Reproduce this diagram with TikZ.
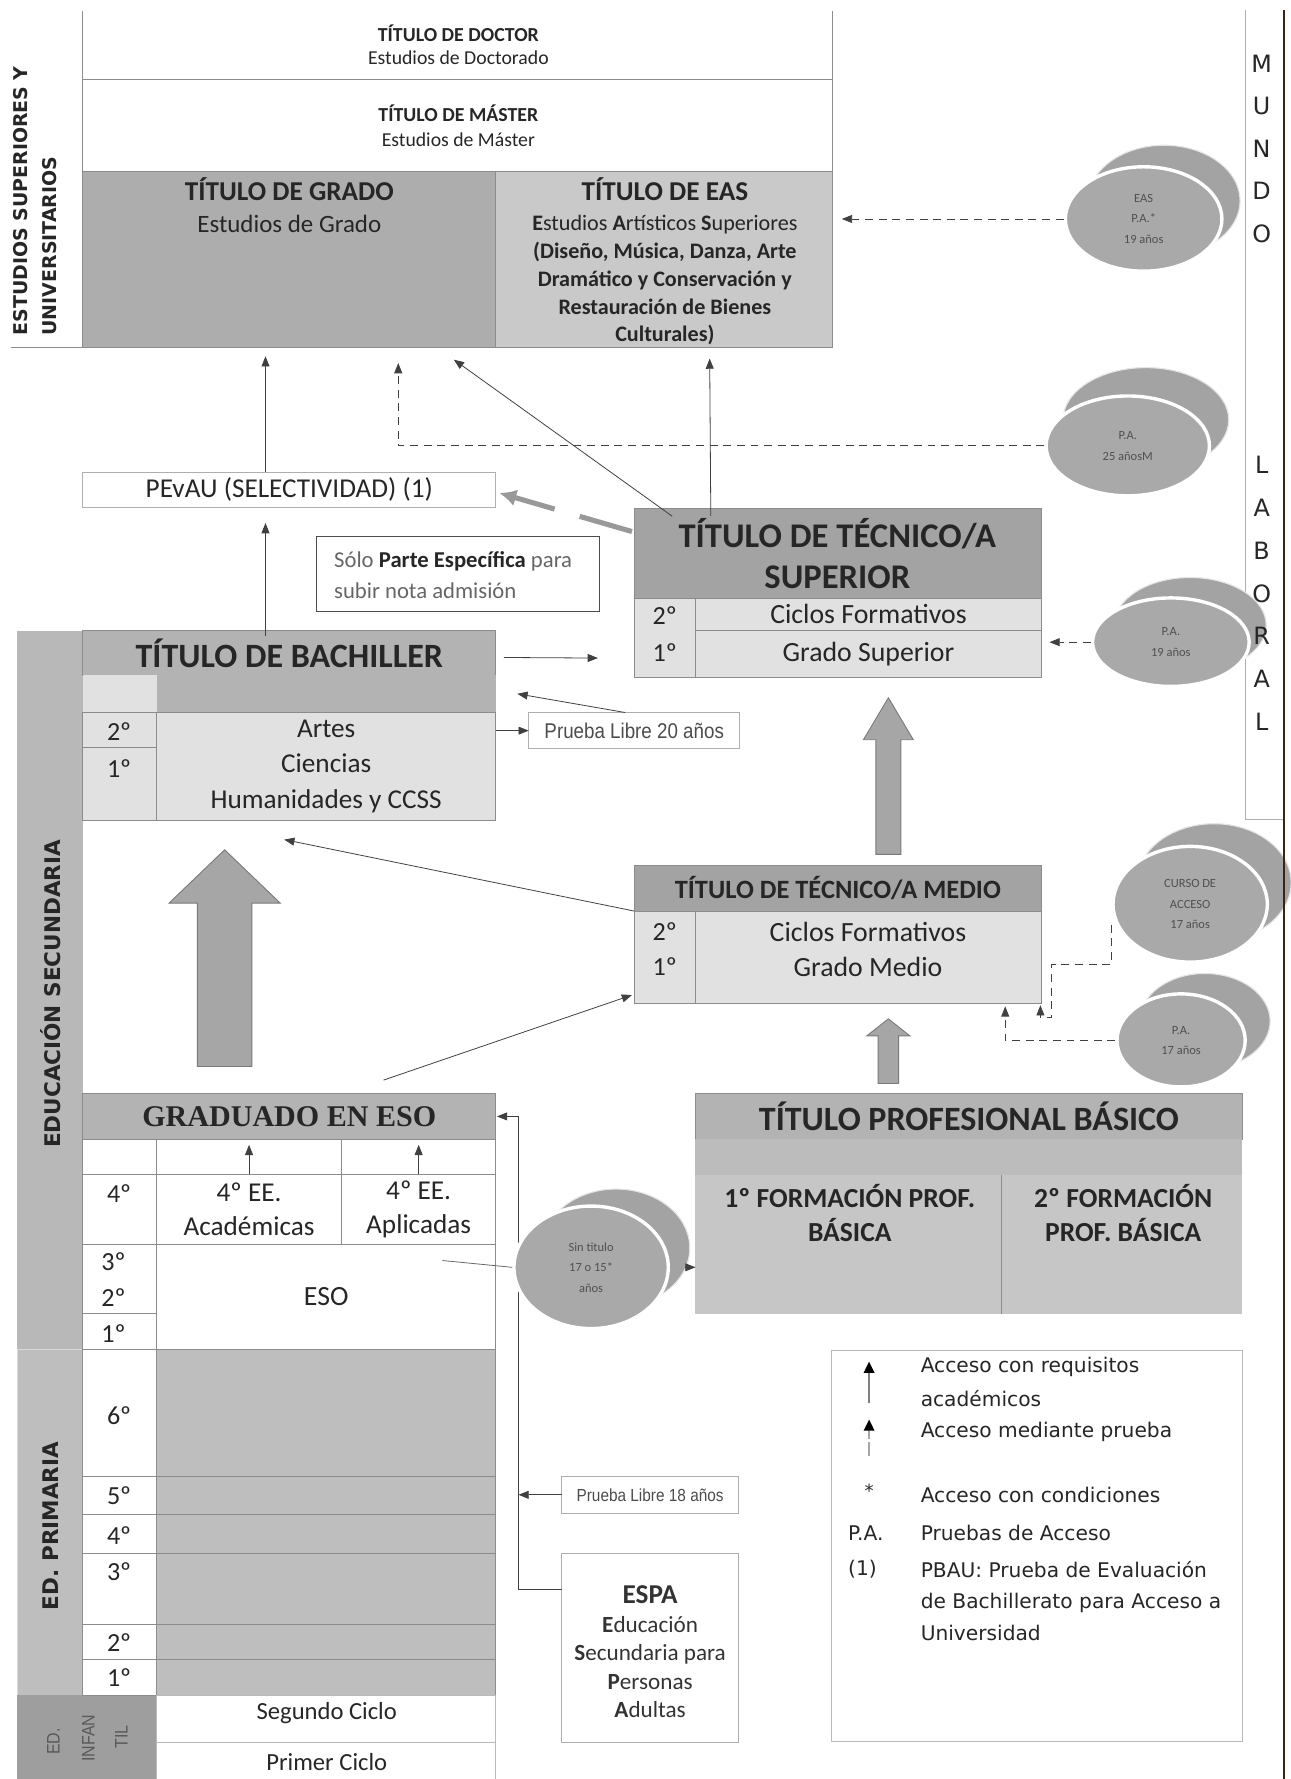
\documentclass[tikz,border=0pt]{standalone}
\usepackage{fontspec}
\setmainfont{Carlito}
\newfontfamily\timesfont{Liberation Serif}
\newfontfamily\widefont{DejaVu Sans}
\newfontfamily\narrowfont[FakeStretch=0.88]{Liberation Sans}
\usetikzlibrary{positioning, arrows.meta, shapes.geometric}
\newcommand{\fsz}[2]{\fontsize{#1}{#2}\selectfont}

\definecolor{txt}{HTML}{262626}
\definecolor{linegray}{HTML}{8C8C8C}
\definecolor{gradogray}{HTML}{ADADAD}
\definecolor{easgray}{HTML}{C9C9C9}
\definecolor{headdark}{HTML}{A3A3A3}
\definecolor{headmid}{HTML}{B3B3B3}
\definecolor{lightcell}{HTML}{E1E1E1}
\definecolor{bandgray}{HTML}{B8B8B8}
\definecolor{primgray}{HTML}{BEBEBE}
\definecolor{infgray}{HTML}{9E9E9E}
\definecolor{basicrow}{HTML}{BCBCBC}
\definecolor{basicbody}{HTML}{C6C6C6}
\definecolor{bubblegray}{HTML}{A9A9A9}
\definecolor{bubbleback}{HTML}{A3A3A3}
\definecolor{bubbletxt}{HTML}{505050}
\definecolor{arrowgray}{HTML}{A6A6A6}
\definecolor{arrowedge}{HTML}{7A7A7A}
\definecolor{edgebrown}{HTML}{3A2418}

\begin{document}
\begin{tikzpicture}[x=1pt, y=-1pt,
    every node/.style={text=txt},
    cell/.style={draw=linegray, line width=0.7pt, anchor=north west, inner sep=0pt, outer sep=0pt},
    frameline/.style={draw=linegray, line width=0.7pt},
    arr/.style={-{Triangle[length=9pt, width=7pt]}, draw=black!75, line width=0.7pt},
    dasharr/.style={arr, dash pattern=on 7pt off 5pt},
    bubble/.style={ellipse, fill=bubblegray, draw=white, line width=3pt, inner sep=0pt, align=center, text=bubbletxt, font=\fsz{11}{18}},
    bubbleback/.style={ellipse, fill=bubbleback, draw=white!90!black, line width=1pt, inner sep=0pt},
    bigarrow/.style={fill=arrowgray, draw=arrowedge, line width=0.8pt},
    bodytext/.style={font=\fsz{24.5}{28}},
    numtext/.style={font=\fsz{23}{28}},
    sidelabel/.style={rotate=90, font=\widefont\bfseries\fsz{19}{26}},
    legendtext/.style={anchor=west, font=\widefont\fsz{17.8}{28}}]
  \useasboundingbox (0,0) rectangle (1137,1568);

  % estudios superiores
  \node[cell, draw=none, minimum width=661, minimum height=60] (doctor) at (73,10) {};
  \node[cell, draw=none, minimum width=661, minimum height=81] (master) at (73,70) {};
  \node[cell, fill=gradogray, minimum width=364, minimum height=155] (grado) at (73,151) {};
  \node[cell, fill=easgray, minimum width=297, minimum height=155] (eas) at (437,151) {};
  \draw[frameline] (doctor.north west) -- (grado.south west);
  \draw[frameline] (doctor.north east) -- (eas.south east);
  \draw[frameline] (doctor.south west) -- (doctor.south east);
  \draw[frameline] (master.south west) -- (master.south east);
  \coordinate (unibase) at (10,306);
  \draw[frameline] (unibase) -- (eas.south east);
  \node[font=\bfseries\fsz{17.5}{20}] (doctortitle) at (404,29) {TÍTULO DE DOCTOR};
  \node[font=\fsz{17.4}{20}] (doctorsub) at (404,51) {Estudios de Doctorado};
  \node[font=\bfseries\fsz{17.5}{20}] (mastertitle) at (404,100) {TÍTULO DE MÁSTER};
  \node[font=\fsz{17.4}{20}] (mastersub) at (404,123) {Estudios de Máster};
  \node[font=\bfseries\fsz{24}{28}] (gradotitle) at (255,167) {TÍTULO DE GRADO};
  \node[font=\fsz{22}{26}] (gradosub) at (255,197) {Estudios de Grado};
  \node[font=\bfseries\fsz{24}{28}] (eastitle) at (586,167) {TÍTULO DE EAS};
  \node[font=\fsz{19.5}{24.5}, align=center] (eassub) at (586,247)
    {\textbf{E}studios \textbf{A}rtísticos \textbf{S}uperiores\\ \textbf{(Diseño, Música, Danza, Arte}\\
     \textbf{Dramático y Conservación y}\\ \textbf{Restauración de Bienes}\\ \textbf{Culturales)}};
  \node[sidelabel, font=\widefont\bfseries\fsz{16.7}{26}, align=left] (unilabel) at (31,177)
    {ESTUDIOS SUPERIORES Y\\UNIVERSITARIOS};

  % mundo laboral
  \coordinate (mundotop) at (1098,9);
  \coordinate (mundobot) at (1098,722);
  \coordinate (mundoedge) at (1131,722);
  \draw[frameline, draw=linegray!70] (mundotop) -- (mundobot) -- (mundoedge);

  % pruebas de acceso
  \node[bubbleback, minimum width=134, minimum height=98] (easpaback) at (1026,177) {};
  \node[bubble, minimum width=138, minimum height=92] (easpa) at (1008,193) {EAS\\P.A.*\\19 años};
  \node[bubbleback, minimum width=146, minimum height=92] (pa25back) at (1010,370) {};
  \node[bubble, minimum width=144, minimum height=88] (pa25) at (994,393) {P.A.\\25 añosM};
  \node[bubbleback, minimum width=134, minimum height=84] (pa19back) at (1049,551) {};
  \node[bubble, minimum width=138, minimum height=78] (pa19) at (1032,566) {P.A.\\19 años};
  \node[bubbleback, minimum width=136, minimum height=104] (cursoback) at (1070,778) {};
  \node[bubble, minimum width=136, minimum height=102] (curso) at (1049,797) {CURSO DE\\ACCESO\\17 años};
  \node[bubbleback, minimum width=115, minimum height=84] (pa17back) at (1062,900) {};
  \node[bubble, minimum width=113, minimum height=82] (pa17) at (1041,917) {P.A.\\17 años};

  \coordinate (edgetop) at (1132,9);
  \coordinate (edgebot) at (1132,1568);
  \draw[edgebrown, line width=1.6pt] (edgetop) -- (edgebot);
  \node[font=\widefont\fsz{21}{37.5}, align=center] (mundo) at (1112,131) {M\\U\\N\\D\\O};
  \node[font=\widefont\fsz{21}{37.8}, align=center] (laboral) at (1112,523) {L\\A\\B\\O\\R\\A\\L};

  % tecnico superior
  \node[cell, fill=headdark, minimum width=359, minimum height=79] (tsuphead) at (559,448) {};
  \node[font=\bfseries\fsz{30.5}{36}, align=center] (tsuptitle) at (738,488) {TÍTULO DE TÉCNICO/A\\SUPERIOR};
  \node[cell, fill=lightcell, minimum width=54, minimum height=70] (tsupcol) at (559,527) {};
  \node[cell, fill=lightcell, minimum width=305, minimum height=29, bodytext] (tsupright) at (613,527) {Ciclos Formativos};
  \node[cell, fill=lightcell, minimum width=305, minimum height=41, bodytext] (tsupright2) at (613,556) {Grado Superior};
  \node[numtext] (tsupsecond) at (586,543) {2º};
  \node[numtext] (tsupfirst) at (586,575) {1º};

  % tecnico medio
  \node[cell, fill=headdark, minimum width=359, minimum height=40, font=\bfseries\fsz{23.3}{26}] (tmedhead) at (559,763) {TÍTULO DE TÉCNICO/A MEDIO};
  \node[cell, fill=lightcell, minimum width=54, minimum height=81] (tmedcol) at (559,803) {};
  \node[cell, fill=lightcell, minimum width=305, minimum height=81] (tmedright) at (613,803) {};
  \node[numtext] (tmedsecond) at (586,821) {2º};
  \node[numtext] (tmedfirst) at (586,852) {1º};
  \node[bodytext] (tmedciclos) at (765,821) {Ciclos Formativos};
  \node[bodytext] (tmedgrado) at (765,852) {Grado Medio};

  % bachillerato
  \node[cell, fill=bandgray, draw=none, minimum width=58, minimum height=633] (secband) at (15,556) {};
  \node[cell, fill=primgray, draw=white!85!black, minimum width=58, minimum height=305] (primband) at (15,1189) {};
  \node[cell, fill=infgray, draw=none, minimum width=123, minimum height=74] (infband) at (15,1494) {};
  \node[sidelabel] (seclabel) at (45,876) {EDUCACIÓN SECUNDARIA};
  \node[sidelabel] (primlabel) at (45,1345) {ED. PRIMARIA};
  \node[rotate=90, font=\narrowfont\fsz{16}{20}, text=black!65] (infed) at (47,1535) {ED.};
  \node[rotate=90, font=\narrowfont\fsz{16}{20}, text=black!65] (infinfan) at (78,1532) {INFAN};
  \node[rotate=90, font=\narrowfont\fsz{16}{20}, text=black!65] (inftil) at (107,1531) {TIL};

  \node[cell, fill=headmid, minimum width=364, minimum height=39, font=\bfseries\fsz{30}{32}] (bachhead) at (73,556) {TÍTULO DE BACHILLER};
  \node[cell, fill=lightcell, draw=none, minimum width=65, minimum height=33] (bachrowleft) at (73,595) {};
  \node[cell, fill=headmid, draw=none, minimum width=299, minimum height=33] (bachrow) at (138,595) {};
  \node[cell, fill=lightcell, minimum width=65, minimum height=31] (bachcol) at (73,628) {};
  \node[cell, fill=lightcell, minimum width=65, minimum height=64] (bachcol2) at (73,659) {};
  \node[cell, fill=lightcell, minimum width=299, minimum height=95, align=center, font=\fsz{24}{31}] (bachright) at (138,628)
    {Artes\\Ciencias\\Humanidades y CCSS};
  \node[numtext] (bachsecond) at (105,645) {2º};
  \node[numtext] (bachfirst) at (105,677) {1º};

  \node[cell, draw=linegray!70, minimum width=364, minimum height=31, font=\fsz{24}{26}] (pevau) at (73,416) {PEvAU (SELECTIVIDAD) (1)};
  \node[cell, draw=black!70, line width=0.9pt, minimum width=249, minimum height=66] (especifica) at (279,473) {};
  \node[anchor=west, font=\fsz{20}{27}, text=black!60, align=left] (especificatext) at (291,507)
    {Sólo \textcolor{txt}{\textbf{Parte Específica}} para\\subir nota admisión};
  \node[cell, draw=linegray!70, minimum width=186, minimum height=32, font=\narrowfont\fsz{18.8}{20}, text=black!70] (prueba20) at (466,628) {Prueba Libre 20 años};

  % eso
  \node[cell, fill=headmid, minimum width=364, minimum height=40, font=\timesfont\bfseries\fsz{26.5}{30}] (eshead) at (73,964) {GRADUADO EN ESO};
  \node[cell, minimum width=65, minimum height=31] (estopleft) at (73,1004) {};
  \node[cell, minimum width=163, minimum height=31] (acadtop) at (138,1004) {};
  \node[cell, minimum width=136, minimum height=31] (aplictop) at (301,1004) {};
  \node[cell, minimum width=65, minimum height=62] (cuartocol) at (73,1035) {};
  \node[cell, minimum width=163, minimum height=62, align=center, font=\fsz{24}{30}] (acad) at (138,1035) {4º EE.\\Académicas};
  \node[cell, minimum width=136, minimum height=62, align=center, font=\fsz{24}{30}] (aplic) at (301,1035) {4º EE.\\Aplicadas};
  \node[numtext] (cuarto) at (105,1052) {4º};
  \node[cell, minimum width=65, minimum height=61] (esocol) at (73,1097) {};
  \node[cell, minimum width=65, minimum height=31] (esocol2) at (73,1158) {};
  \node[cell, minimum width=299, minimum height=92, bodytext] (esoright) at (138,1097) {ESO};
  \node[numtext] (esothird) at (100,1112) {3º};
  \node[numtext] (esosecond) at (100,1144) {2º};
  \node[numtext] (esofirst) at (100,1175) {1º};
  \draw[arr] (acad.north) -- ([yshift=-5pt]acadtop.north);
  \draw[arr] (aplic.north) -- ([yshift=-5pt]aplictop.north);

  % primaria e infantil
  \node[cell, fill=white, minimum width=65, minimum height=112] (sexto) at (73,1189) {};
  \node[cell, fill=primgray, minimum width=299, minimum height=112] (sextoright) at (138,1189) {};
  \node[cell, fill=white, minimum width=65, minimum height=34] (quinto) at (73,1301) {};
  \node[cell, fill=primgray, minimum width=299, minimum height=34] (quintoright) at (138,1301) {};
  \node[cell, fill=white, minimum width=65, minimum height=34] (cuartop) at (73,1335) {};
  \node[cell, fill=primgray, minimum width=299, minimum height=34] (cuartopright) at (138,1335) {};
  \node[cell, fill=white, minimum width=65, minimum height=63] (tercero) at (73,1369) {};
  \node[cell, fill=primgray, minimum width=299, minimum height=63] (terceroright) at (138,1369) {};
  \node[cell, fill=white, minimum width=65, minimum height=31] (segundo) at (73,1432) {};
  \node[cell, fill=primgray, minimum width=299, minimum height=31] (segundoright) at (138,1432) {};
  \node[cell, fill=white, minimum width=65, minimum height=31] (primero) at (73,1463) {};
  \node[cell, fill=primgray, minimum width=299, minimum height=31] (primeroright) at (138,1463) {};
  \node[numtext] (sextolabel) at (105,1248) {6º};
  \node[numtext] (quintolabel) at (105,1318) {5º};
  \node[numtext] (cuartolabel) at (105,1353) {4º};
  \node[numtext] (tercerolabel) at (105,1385) {3º};
  \node[numtext] (segundolabel) at (105,1448) {2º};
  \node[numtext] (primerolabel) at (105,1479) {1º};
  \node[cell, draw=linegray!60, minimum width=299, minimum height=42] (segciclo) at (138,1494) {};
  \node[cell, draw=linegray!60, minimum width=299, minimum height=32] (primciclo) at (138,1536) {};
  \node[font=\fsz{21.7}{25}] (segciclotext) at (288,1510) {Segundo Ciclo};
  \node[font=\fsz{21.7}{25}] (primciclotext) at (288,1553) {Primer Ciclo};

  % adultos
  \node[cell, draw=linegray!70, minimum width=156, minimum height=33, font=\narrowfont\fsz{15.4}{18}, text=black!70] (prueba18) at (495,1301) {Prueba Libre 18 años};
  \node[cell, draw=linegray!70, minimum width=156, minimum height=167] (espa) at (495,1369) {};
  \node[font=\fsz{20.4}{25.2}, align=center, text=black!80] (espatext) at (573,1456)
    {{\bfseries\fsz{24}{25.2}ESPA}\\\textbf{E}ducación\\\textbf{S}ecundaria para\\\textbf{P}ersonas\\\textbf{A}dultas};
  \coordinate (espajoin) at ([xshift=20pt]eshead.east);
  \draw[arr] ([yshift=52pt]espa.west) -| (espajoin) -- ([xshift=1pt]eshead.east);
  \draw[arr] (prueba18.west) -- (espajoin |- prueba18.west);

  % profesional basico
  \node[cell, fill=headmid, minimum width=482, minimum height=40, font=\bfseries\fsz{30}{32}] (basichead) at (613,964) {TÍTULO PROFESIONAL BÁSICO};
  \node[cell, fill=basicrow, draw=none, minimum width=482, minimum height=32] (basicrow) at (613,1004) {};
  \node[cell, fill=basicbody, draw=none, minimum width=270, minimum height=122] (basicleft) at (613,1036) {};
  \node[cell, fill=basicbody, draw=none, minimum width=212, minimum height=122] (basicright) at (883,1036) {};
  \draw[frameline] (basicright.north west) -- (basicright.south west);
  \node[font=\bfseries\fsz{24.3}{30}, align=center] (basiconetext) at (749,1069) {1º FORMACIÓN PROF.\\BÁSICA};
  \node[font=\bfseries\fsz{24.3}{30}, align=center] (basictwotext) at (990,1069) {2º FORMACIÓN\\PROF. BÁSICA};

  % sin titulo
  \node[bubbleback, minimum width=130, minimum height=104] (sintitback) at (543,1100) {};
  \node[bubble, minimum width=136, minimum height=108] (sintit) at (521,1117) {Sin titulo\\17 o 15*\\años};
  \draw[arr, draw=black!60, -] ([xshift=-47pt, yshift=-14pt]esoright.north east) -- (sintit.west);
  \draw[arr] (sintit.east -| sintitback.east) -- (sintit.east -| basicleft.west);

  % leyenda
  \node[cell, draw=linegray!60, minimum width=362, minimum height=345] (legend) at (733,1190) {};
  \coordinate (legsolid) at (766,1237);
  \coordinate (legsolidtip) at (766,1200);
  \draw[-{Triangle[length=10pt, width=9pt, color=black]}, draw=gray, line width=2.2pt] (legsolid) -- (legsolidtip);
  \coordinate (legdash) at (766,1283);
  \coordinate (legdashtip) at (766,1251);
  \draw[-{Triangle[length=10pt, width=9pt, color=black]}, draw=gray!70, line width=2.2pt, dash pattern=on 12pt off 3pt] (legdash) -- (legdashtip);
  \node[legendtext] (legone) at (808,1205) {Acceso con requisitos};
  \node[legendtext] (legonebis) at (808,1233) {académicos};
  \node[legendtext] (legtwo) at (808,1262) {Acceso mediante prueba};
  \node[font=\widefont\fsz{16}{20}] (legstar) at (766,1314) {*};
  \node[legendtext] (legthree) at (808,1318) {Acceso con condiciones};
  \node[legendtext] (legpa) at (744,1351) {P.A.};
  \node[legendtext] (legfour) at (808,1351) {Pruebas de Acceso};
  \node[legendtext] (legnote) at (744,1383) {(1)};
  \node[legendtext, align=left] (legfive) at (808,1411) {PBAU: Prueba de Evaluación\\de Bachillerato para Acceso a\\Universidad};

  % flechas grandes
  \draw[bigarrow] (174,940) -- (174,796) -- (149,796) -- (198,749) -- (247,796) -- (222,796) -- (222,940) -- cycle;
  \draw[bigarrow] (772,753) -- (772,652) -- (761,652) -- (783,615) -- (805,652) -- (794,652) -- (794,753) -- cycle;
  \draw[bigarrow] (774,955) -- (774,913) -- (764,913) -- (783,898) -- (802,913) -- (792,913) -- (792,955) -- cycle;

  % accesos
  \draw[arr] ([xshift=-21pt, yshift=-5pt]bachhead.north) -- ([xshift=-21pt, yshift=-14pt]pevau.south);
  \draw[arr] ([xshift=-21pt]pevau.north) -- ([xshift=-21pt, yshift=-8pt]grado.south);
  \draw[arr] ([xshift=-112pt, yshift=-7pt]tsuphead.north) -- ([xshift=40pt, yshift=-10pt]eas.south);
  \draw[arr] ([xshift=-146pt, yshift=-7pt]tsuphead.north) -- ([xshift=-37pt, yshift=-11pt]grado.south east);
  \draw[-{Latex[length=15pt, width=15pt]}, draw=gray!80, line width=4.5pt, dash pattern=on 48pt off 23pt on 200pt]
    ([xshift=-2pt, yshift=19pt]tsuphead.west) -- ([xshift=3pt, yshift=-3pt]pevau.east);
  \draw[arr] ([xshift=7pt, yshift=-4pt]bachhead.east) -- ([xshift=-32pt, yshift=-18pt]tsupcol.west);
  \draw[arr] ([xshift=-8pt]prueba20.north) -- ([xshift=19pt]bachrow.east);
  \draw[arr] (prueba20.west -| bachright.east) -- (prueba20.west);
  \draw[arr] ([yshift=-20pt]tmedhead.west) -- ([xshift=-37pt, yshift=-17pt]bachright.south);
  \draw[arr] ([xshift=83pt, yshift=12pt]eshead.north) -- ([xshift=-2pt, yshift=7pt]tmedcol.south west);

  % pruebas (discontinuas)
  \draw[dasharr, shorten >=8pt] (easpa.west) -- (easpa.west -| eas.east);
  \draw[dasharr] (pa25.west) -| ([xshift=96pt, yshift=-14pt]grado.south);
  \draw[dasharr, shorten >=7pt] (pa19.west) -- (pa19.west -| tsupright.east);
  \coordinate (cursoturn) at (927,850);
  \draw[dasharr] ([yshift=-18pt]curso.west) |- (cursoturn) |- ([xshift=-1pt, yshift=-13pt]tmedright.south east) -- ([xshift=-1pt, yshift=-2pt]tmedright.south east);
  \draw[dasharr] (pa17.west) -| ([xshift=-32pt, yshift=-3pt]tmedright.south east);
\end{tikzpicture}
\end{document}
